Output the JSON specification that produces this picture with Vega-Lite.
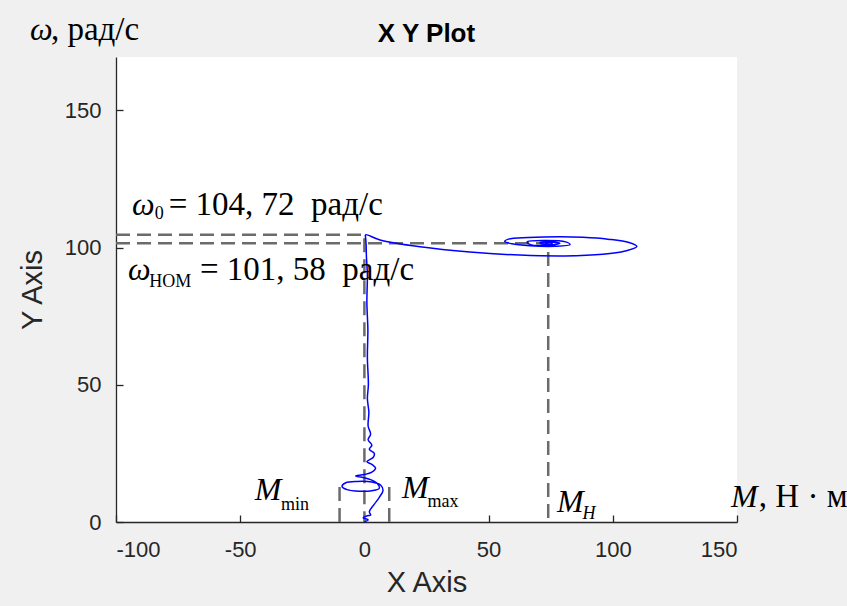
{
  "$schema": "https://vega.github.io/schema/vega-lite/v6.json",
  "autosize": "none",
  "width": 621,
  "height": 465,
  "padding": {"left": 116, "top": 57, "right": 110, "bottom": 84},
  "background": "#f0f0f0",
  "title": {"text": "X Y Plot", "font": "Liberation Sans", "fontSize": 26, "fontWeight": "bold", "color": "#000000", "anchor": "middle", "baseline": "alphabetic", "offset": -54},
  "config": {
    "view": {"fill": "white", "stroke": null},
    "axis": {"grid": false, "domainColor": "#262626", "domainWidth": 1.3, "tickColor": "#262626", "tickWidth": 1.3, "tickSize": -7, "labelColor": "#262626", "labelFont": "Liberation Sans", "labelFontSize": 22, "labelExpr": "toString(datum.value)", "titleFont": "Liberation Sans", "titleFontSize": 29, "titleFontWeight": "normal", "titleColor": "#262626"}
  },
  "datasets": {
    "guides": [
      {"g": "w0", "i": 0, "M": -100, "w": 104.72},
      {"g": "w0", "i": 1, "M": 0, "w": 104.72},
      {"g": "w0", "i": 2, "M": 0, "w": 0},
      {"g": "wn", "i": 0, "M": -100, "w": 101.58},
      {"g": "wn", "i": 1, "M": 74, "w": 101.58},
      {"g": "wn", "i": 2, "M": 74, "w": 0},
      {"g": "mmin", "i": 0, "M": -10, "w": 0},
      {"g": "mmin", "i": 1, "M": -10, "w": 13},
      {"g": "mmax", "i": 0, "M": 10, "w": 0},
      {"g": "mmax", "i": 1, "M": 10, "w": 13}
    ],
    "traj": [
      {"i": 0, "M": 0, "w": 0}, {"i": 1, "M": 1.5, "w": 0.8}, {"i": 2, "M": -0.5, "w": 1.5}, {"i": 3, "M": 1.2, "w": 2.3},
      {"i": 4, "M": 2.5, "w": 2.5}, {"i": 5, "M": 2, "w": 3.8}, {"i": 6, "M": 4, "w": 6.5}, {"i": 7, "M": 6, "w": 9},
      {"i": 8, "M": 7.5, "w": 11.5}, {"i": 9, "M": 6.5, "w": 13.5}, {"i": 10, "M": 3, "w": 14.6}, {"i": 11, "M": -3, "w": 14.8},
      {"i": 12, "M": -7.5, "w": 14.3}, {"i": 13, "M": -9, "w": 13}, {"i": 14, "M": -7, "w": 11.8}, {"i": 15, "M": -2, "w": 11.2},
      {"i": 16, "M": 3, "w": 11.4}, {"i": 17, "M": 6, "w": 12.3}, {"i": 18, "M": 5, "w": 14.2}, {"i": 19, "M": 2, "w": 15.6},
      {"i": 20, "M": -1, "w": 16.3}, {"i": 21, "M": -3.5, "w": 16.8}, {"i": 22, "M": 0, "w": 17.3}, {"i": 23, "M": 3, "w": 18.2},
      {"i": 24, "M": 4.5, "w": 19.6}, {"i": 25, "M": 3, "w": 21}, {"i": 26, "M": 1, "w": 22}, {"i": 27, "M": 3.5, "w": 23.5},
      {"i": 28, "M": 4, "w": 25}, {"i": 29, "M": 2, "w": 26.5}, {"i": 30, "M": 3, "w": 28}, {"i": 31, "M": 1.5, "w": 30},
      {"i": 32, "M": 2.5, "w": 32}, {"i": 33, "M": 1.5, "w": 35}, {"i": 34, "M": 1.8, "w": 40}, {"i": 35, "M": 1.2, "w": 45},
      {"i": 36, "M": 1.6, "w": 50}, {"i": 37, "M": 1.2, "w": 60}, {"i": 38, "M": 1.4, "w": 70}, {"i": 39, "M": 1, "w": 80},
      {"i": 40, "M": 1.2, "w": 90}, {"i": 41, "M": 0.8, "w": 97}, {"i": 42, "M": 0.7, "w": 101}, {"i": 43, "M": 0.5, "w": 103.5},
      {"i": 44, "M": 0.4, "w": 104.5}, {"i": 45, "M": 0.6, "w": 104.75}, {"i": 46, "M": 6.3, "w": 102.8}, {"i": 47, "M": 22.4, "w": 100.3},
      {"i": 48, "M": 42.5, "w": 98.4}, {"i": 49, "M": 62.6, "w": 97.3}, {"i": 50, "M": 80.8, "w": 97.0}, {"i": 51, "M": 96, "w": 97.6},
      {"i": 52, "M": 105, "w": 98.8}, {"i": 53, "M": 109.7, "w": 100.4}, {"i": 54, "M": 106.5, "w": 101.9}, {"i": 55, "M": 98, "w": 103.1},
      {"i": 56, "M": 88, "w": 103.8}, {"i": 57, "M": 78.7, "w": 104.0}, {"i": 58, "M": 66, "w": 103.7}, {"i": 59, "M": 58, "w": 103.1},
      {"i": 60, "M": 56.5, "w": 102.3}, {"i": 61, "M": 59.4, "w": 101.4}, {"i": 62, "M": 66.6, "w": 100.7}, {"i": 63, "M": 76.7, "w": 100.5},
      {"i": 64, "M": 82.8, "w": 101.1}, {"i": 65, "M": 81, "w": 102.1}, {"i": 66, "M": 72.7, "w": 102.6}, {"i": 67, "M": 65.5, "w": 102.1},
      {"i": 68, "M": 66.6, "w": 101.2}, {"i": 69, "M": 74.7, "w": 100.9}, {"i": 70, "M": 78.7, "w": 101.6}, {"i": 71, "M": 75, "w": 102.1},
      {"i": 72, "M": 70.7, "w": 101.8}, {"i": 73, "M": 72, "w": 101.3}, {"i": 74, "M": 75.5, "w": 101.4}, {"i": 75, "M": 75.5, "w": 101.8},
      {"i": 76, "M": 73, "w": 101.7}, {"i": 77, "M": 74, "w": 101.58}
    ],
    "mainItalic": [
      {"t": "ω", "M": -93.6, "w": 111.9},
      {"t": "ω", "M": -95.2, "w": 88.2},
      {"t": "M", "M": -44.1, "w": 8.0},
      {"t": "M", "M": 15.1, "w": 8.7},
      {"t": "M", "M": 77.5, "w": 3.6},
      {"t": "M", "M": 147.6, "w": 5.5},
      {"t": "ω", "M": -134.6, "w": 175.7}
    ],
    "mainRoman": [
      {"t": "= 104, 72\u00a0\u00a0рад/с", "M": -78.8, "w": 111.9},
      {"t": "= 101, 58\u00a0\u00a0рад/с", "M": -66.2, "w": 88.2},
      {"t": ", Н · м", "M": 158.8, "w": 5.5},
      {"t": ", рад/с", "M": -126.2, "w": 175.7}
    ],
    "subRoman": [
      {"t": "0", "M": -84.4, "w": 110.5},
      {"t": "НОМ", "M": -86.6, "w": 85.7},
      {"t": "min", "M": -33.6, "w": 4.4},
      {"t": "max", "M": 25.4, "w": 5.5}
    ],
    "subItalic": [
      {"t": "H", "M": 87.8, "w": 1.1}
    ]
  },
  "encoding": {
    "x": {"field": "M", "type": "quantitative", "scale": {"domain": [-100, 150], "nice": false, "zero": false},
      "axis": {"title": "X Axis", "values": [-100, -50, 0, 50, 100, 150], "labelPadding": 24, "titlePadding": 8}},
    "y": {"field": "w", "type": "quantitative", "scale": {"domain": [0, 169.5], "nice": false},
      "axis": {"title": "Y Axis", "values": [0, 50, 100, 150], "labelPadding": 22, "titlePadding": 17}}
  },
  "layer": [
    {
      "data": {"name": "guides"},
      "mark": {"type": "line", "color": "#6b6b6b", "strokeWidth": 2.5, "strokeDash": [14, 7], "clip": false},
      "encoding": {"detail": {"field": "g"}, "order": {"field": "i", "type": "quantitative"}}
    },
    {
      "data": {"name": "traj"},
      "mark": {"type": "line", "color": "#0000ff", "strokeWidth": 1.5, "interpolate": "catmull-rom"},
      "encoding": {"order": {"field": "i", "type": "quantitative"}}
    },
    {
      "data": {"name": "mainItalic"},
      "mark": {"type": "text", "font": "Liberation Serif", "fontSize": 32, "fontStyle": "italic", "align": "left", "baseline": "alphabetic", "color": "#000000", "clip": false},
      "encoding": {"text": {"field": "t"}}
    },
    {
      "data": {"name": "mainRoman"},
      "mark": {"type": "text", "font": "Liberation Serif", "fontSize": 33, "align": "left", "baseline": "alphabetic", "color": "#000000", "clip": false},
      "encoding": {"text": {"field": "t"}}
    },
    {
      "data": {"name": "subRoman"},
      "mark": {"type": "text", "font": "Liberation Serif", "fontSize": 18, "align": "left", "baseline": "alphabetic", "color": "#000000", "clip": false},
      "encoding": {"text": {"field": "t"}}
    },
    {
      "data": {"name": "subItalic"},
      "mark": {"type": "text", "font": "Liberation Serif", "fontSize": 18, "fontStyle": "italic", "align": "left", "baseline": "alphabetic", "color": "#000000", "clip": false},
      "encoding": {"text": {"field": "t"}}
    }
  ]
}
